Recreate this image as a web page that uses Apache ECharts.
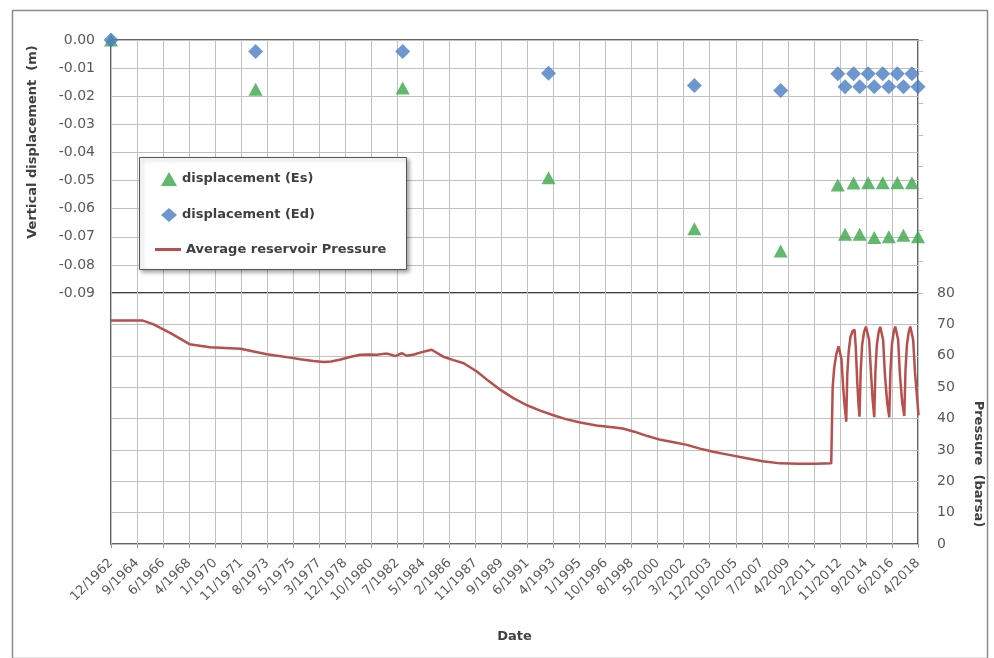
<!DOCTYPE html>
<html>
<head>
<meta charset="utf-8">
<script src="https://cdn.jsdelivr.net/npm/echarts@6/dist/echarts.min.js"></script>
<style>
html,body{margin:0;padding:0;background:#fff;}
#chart{width:994px;height:658px;}
</style>
</head>
<body>
<div id="chart"></div>
<script>
// ---- tick labels of the date axis (one label per major tick) ----
const tickLabels = ['12/1962','9/1964','6/1966','4/1968','1/1970','11/1971','8/1973','5/1975','3/1977','12/1978',
  '10/1980','7/1982','5/1984','2/1986','11/1987','9/1989','6/1991','4/1993','1/1995','10/1996','8/1998','5/2000',
  '3/2002','12/2003','10/2005','7/2007','4/2009','2/2011','11/2012','9/2014','6/2016','4/2018'];

// ---- levelling surveys ----
const surveyDates = ['1962-12','1972-11','1982-12','1992-12','2002-12','2008-11','2012-10','2013-04','2013-11',
  '2014-04','2014-11','2015-04','2015-11','2016-04','2016-11','2017-04','2017-11','2018-04'];
const displacementEs = [0.0,-0.0175,-0.0171,-0.0490,-0.0671,-0.0751,-0.0516,-0.0691,-0.0509,
  -0.0691,-0.0508,-0.0703,-0.0508,-0.0700,-0.0508,-0.0695,-0.0508,-0.0700];
const displacementEd = [0.0,-0.0041,-0.0041,-0.0118,-0.0162,-0.0180,-0.0120,-0.0166,-0.0120,
  -0.0166,-0.0120,-0.0166,-0.0120,-0.0166,-0.0120,-0.0166,-0.0120,-0.0166];

// ---- average reservoir pressure (decimal year, barsa) ----
const pressureYears = [1962.92,1964.0,1965.1,1965.8,1967.0,1968.3,1969.7,1971.8,1973.6,1975.2,1975.9,1976.8,1977.5,
  1978.0,1978.6,1979.3,1980.0,1980.6,1981.15,1981.6,1981.92,1982.4,1982.85,1983.2,1983.7,1984.1,1984.9,1985.7,
  1986.4,1987.1,1988.0,1988.8,1989.6,1990.5,1991.4,1992.3,1993.2,1994.1,1995.1,1996.2,1997.3,1998.0,1998.8,1999.7,
  2000.6,2001.5,2002.4,2003.3,2004.2,2005.3,2006.5,2007.6,2008.8,2010.0,2011.2,2012.30,
  2012.33,2012.40,2012.50,2012.65,2012.80,2012.92,2013.00,2013.12,2013.22,2013.33,
  2013.40,2013.50,2013.62,2013.76,2013.90,2013.98,2014.08,2014.17,2014.24,
  2014.32,2014.42,2014.55,2014.68,2014.81,2014.90,2015.02,2015.14,2015.25,
  2015.33,2015.43,2015.55,2015.66,2015.77,2015.86,2015.98,2016.14,2016.28,
  2016.36,2016.46,2016.58,2016.69,2016.80,2016.89,2017.01,2017.17,2017.31,
  2017.39,2017.49,2017.61,2017.72,2017.83,2017.92,2018.04,2018.18,2018.29];
const pressureValues = [71.2,71.2,71.2,70.1,67.2,63.7,62.7,62.2,60.5,59.4,58.9,58.3,58.0,
  58.2,58.7,59.6,60.3,60.4,60.3,60.6,60.6,59.9,60.8,60.0,60.4,61.0,61.9,59.7,
  58.6,57.6,55.0,52.0,49.2,46.5,44.3,42.6,41.1,39.8,38.7,37.8,37.2,36.8,35.8,34.4,
  33.2,32.4,31.6,30.4,29.4,28.4,27.3,26.4,25.7,25.6,25.6,25.7,
  33.0,50.0,56.0,60.5,63.0,63.5,59.0,50.0,44.0,39.0,
  54.0,61.5,66.0,67.8,68.3,63.0,52.0,44.5,40.6,
  55.0,63.5,67.5,69.3,69.5,65.0,55.0,46.0,40.4,
  55.0,63.5,67.5,69.2,69.4,65.0,54.0,45.0,40.4,
  55.0,63.5,67.5,69.3,69.5,65.0,54.0,45.0,40.8,
  55.0,63.5,67.5,69.3,69.5,65.0,55.0,47.0,41.0];

// ---- date -> axis units (one unit per major tick; ticks span Dec 1962 .. Apr 2018) ----
const MONTHS_PER_TICK = 664 / 31;
function ymToAxis(s){ const p = s.split('-').map(Number); return ((p[0]-1962)*12 + (p[1]-12)) / MONTHS_PER_TICK; }
function yearToAxis(y){ return (y - (1962 + 11/12)) * 12 / MONTHS_PER_TICK; }

const esData = surveyDates.map((d,i)=>[ymToAxis(d), displacementEs[i]]);
const edData = surveyDates.map((d,i)=>[ymToAxis(d), displacementEd[i]]);
const prData = pressureYears.map((y,i)=>[yearToAxis(y), pressureValues[i]]);

const tickFont = {fontFamily:'DejaVu Sans', fontSize:14, color:'#595959'};
const boldFont = {fontFamily:'DejaVu Sans', fontWeight:'bold', fontSize:13, fill:'#404040'};
const legendText = {fontFamily:'DejaVu Sans', fontWeight:'bold', fontSize:13, color:'#404040'};
const GRID_LINE = {show:true, lineStyle:{color:'#c0c0c0', width:1}};

const chart = echarts.init(document.getElementById('chart'), null, {renderer:'canvas'});
chart.setOption({
  animation:false,
  backgroundColor:'#ffffff',
  grid:[
    {left:111, top:40, width:807, height:253, show:true, borderColor:'#333', borderWidth:1.5, backgroundColor:'transparent'},
    {left:111, top:293, width:807, height:251, show:true, borderColor:'#333', borderWidth:1.5, backgroundColor:'transparent'}
  ],
  xAxis:[
    {type:'value', gridIndex:0, min:0, max:31, interval:1,
     axisLine:{show:false}, axisTick:{show:false}, axisLabel:{show:false}, splitLine:GRID_LINE},
    {type:'value', gridIndex:1, min:0, max:31, interval:1,
     axisLine:{show:false}, axisTick:{show:true, length:4, lineStyle:{color:'#999'}},
     axisLabel:{rotate:45, margin:17, fontFamily:'DejaVu Sans', fontSize:13, color:'#595959',
       formatter:v=>tickLabels[Math.round(v)] || ''},
     splitLine:GRID_LINE,
     name:'Date', nameLocation:'middle', nameGap:86,
     nameTextStyle:{fontFamily:'DejaVu Sans', fontWeight:'bold', fontSize:13, color:'#404040'}}
  ],
  yAxis:[
    {type:'value', gridIndex:0, position:'left', min:-0.09, max:0, interval:0.01,
     axisLine:{show:false}, axisTick:{show:false},
     axisLabel:Object.assign({margin:16, formatter:v=>Math.abs(v)<1e-9?'0.00':v.toFixed(2)}, tickFont),
     splitLine:GRID_LINE},
    {type:'value', gridIndex:1, position:'right', min:0, max:80, interval:10,
     axisLine:{show:false}, axisTick:{show:true, length:5, lineStyle:{color:'#bbb'}},
     axisLabel:Object.assign({margin:19}, tickFont),
     splitLine:GRID_LINE},
    {type:'value', gridIndex:0, position:'right', min:0, max:8, interval:1,
     axisLine:{show:false}, axisTick:{show:true, length:5, lineStyle:{color:'#bbb'}},
     axisLabel:{show:false}, splitLine:{show:false}}
  ],
  legend:[
    {data:['displacement (Es)','displacement (Ed)'], orient:'vertical', left:161, top:172,
     itemWidth:16, itemHeight:14, itemGap:22, padding:0, z:100, textStyle:legendText},
    {data:[{name:'Average reservoir Pressure', icon:'rect'}], orient:'vertical', left:155, top:243,
     itemWidth:26, itemHeight:3, padding:0, z:100, textStyle:legendText}
  ],
  graphic:[
    {type:'rect', left:139, top:157, z:50, shape:{width:267, height:112},
     style:{fill:'#fff', stroke:'#555', lineWidth:1, shadowBlur:4, shadowOffsetX:2, shadowOffsetY:2, shadowColor:'rgba(0,0,0,0.35)'}},
    {type:'rect', left:10, top:8, z:0, silent:true, shape:{width:975, height:648},
     style:{fill:'none', stroke:'#8c8c8c', lineWidth:1.5}},
    {type:'text', x:33, y:142, rotation:Math.PI/2, z:60,
     style:Object.assign({text:'Vertical displacement  (m)', align:'center', verticalAlign:'middle'}, boldFont)},
    {type:'text', x:978, y:464, rotation:-Math.PI/2, z:60,
     style:Object.assign({text:'Pressure  (barsa)', align:'center', verticalAlign:'middle'}, boldFont)}
  ],
  series:[
    {name:'Average reservoir Pressure', type:'line', xAxisIndex:1, yAxisIndex:1, data:prData,
     symbol:'none', smooth:false, lineStyle:{color:'#b84f4c', width:2.5}, itemStyle:{color:'#b84f4c'}, z:3},
    {name:'displacement (Es)', type:'scatter', xAxisIndex:0, yAxisIndex:0, data:esData,
     symbol:'triangle', symbolSize:[14,13], itemStyle:{color:'#3aa64a'}, clip:false, z:4},
    {name:'displacement (Ed)', type:'scatter', xAxisIndex:0, yAxisIndex:0, data:edData,
     symbol:'diamond', symbolSize:[15,15], itemStyle:{color:'#4a7dc4'}, clip:false, z:5}
  ]
});
</script>
</body>
</html>
